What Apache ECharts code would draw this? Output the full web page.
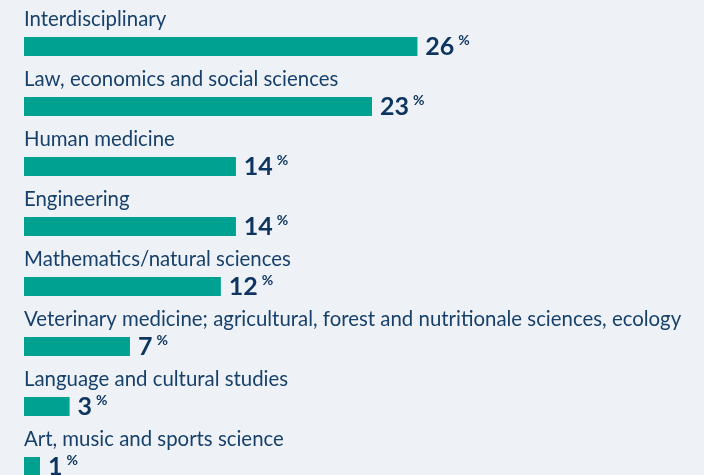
<!DOCTYPE html>
<html>
<head>
<meta charset="utf-8">
<script src="https://cdn.jsdelivr.net/npm/echarts@6/dist/echarts.min.js"></script>
<style>
  html, body { margin: 0; padding: 0; background: #eef2f6; }
  #chart { width: 704px; height: 475px; }
</style>
</head>
<body>
<div id="chart"></div>
<script>
// fields of study, top to bottom
var fields = [
    'Interdisciplinary',
    'Law, economics and social sciences',
    'Human medicine',
    'Engineering',
    'Mathematics/natural sciences',
    'Veterinary medicine; agricultural, forest and nutritionale sciences, ecology',
    'Language and cultural studies',
    'Art, music and sports science'
];
// bar lengths as drawn (percent)
var barValues = [26, 23, 14, 14, 13, 7, 3, 1.05];
// printed percentages
var shownPct = ['26', '23', '14', '14', '12', '7', '3', '1'];

var chart = echarts.init(document.getElementById('chart'), null, {renderer: 'canvas'});

var option = {
    backgroundColor: '#eef2f6',
    animation: false,
    grid: { left: 24, top: 16.5, width: 605, height: 480, outerBoundsMode: 'none', containLabel: false },
    xAxis: { type: 'value', min: 0, max: 40, show: false },
    yAxis: {
        type: 'category',
        data: fields,
        inverse: true,
        show: false
    },
    series: [
        {
            // name label above the bar
            type: 'bar',
            data: barValues,
            barWidth: 19,
            barGap: '-100%',
            itemStyle: { color: '#00a190' },
            label: {
                show: true,
                position: [0, -8],
                align: 'left',
                verticalAlign: 'bottom',
                formatter: function (p) { return fields[p.dataIndex]; },
                fontFamily: 'Lato',
                fontSize: 20.4,
                color: '#17406b'
            }
        },
        {
            // value label right of the bar
            type: 'bar',
            data: barValues,
            barWidth: 19,
            barGap: '-100%',
            itemStyle: { color: '#00a190' },
            label: {
                show: true,
                position: 'right',
                distance: 8,
                formatter: function (p) { return '{v|' + shownPct[p.dataIndex] + '}{p|%}'; },
                rich: {
                    v: { fontFamily: 'Lato', fontWeight: 'bold', fontSize: 25, color: '#0d355f', lineHeight: 26 },
                    p: { fontFamily: 'Lato', fontWeight: 'bold', fontSize: 14, color: '#0d355f',
                         verticalAlign: 'top', padding: [0, 0, 10, 4], lineHeight: 26 }
                }
            }
        }
    ]
};
chart.setOption(option);
</script>
</body>
</html>
